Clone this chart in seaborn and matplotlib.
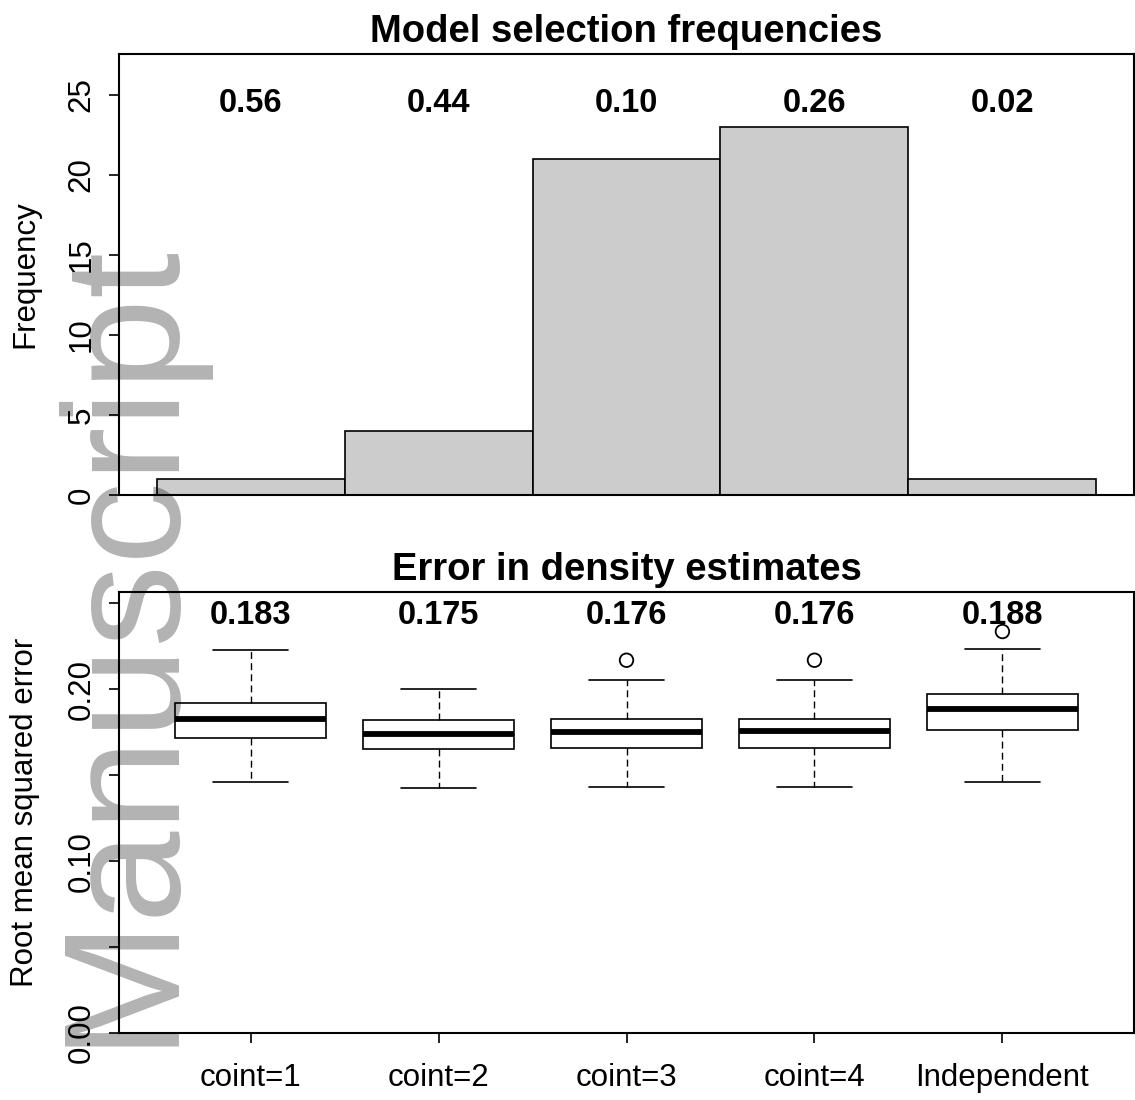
import numpy as np
import pandas as pd
import matplotlib
matplotlib.use("Agg")
import matplotlib.pyplot as plt
import seaborn as sns

# ---------------- data ----------------
categories = ["coint=1", "coint=2", "coint=3", "coint=4", "Independent"]
frequencies = [1, 4, 21, 23, 1]
selection_labels = ["0.56", "0.44", "0.10", "0.26", "0.02"]
rmse_labels = ["0.183", "0.175", "0.176", "0.176", "0.188"]

whisker_low = [0.1462, 0.1427, 0.1430, 0.1430, 0.1460]
q1 = [0.1716, 0.1650, 0.1660, 0.1660, 0.1761]
median = [0.1825, 0.1742, 0.1753, 0.1757, 0.1888]
q3 = [0.1918, 0.1819, 0.1825, 0.1825, 0.1975]
whisker_high = [0.2227, 0.2004, 0.2052, 0.2052, 0.2237]
outlier_groups = ["coint=3", "coint=4", "Independent"]
outlier_values = [0.2169, 0.2169, 0.2336]

freq_ticks = [0, 5, 10, 15, 20, 25]
rmse_ticks = [0.00, 0.05, 0.10, 0.15, 0.20, 0.25]
rmse_tick_labels = ["0.00", "", "0.10", "", "0.20", ""]

# ---------------- style ----------------
sns.set_theme(style="ticks")
plt.rcParams["font.family"] = ["Liberation Sans", "DejaVu Sans"]
plt.rcParams["text.color"] = "black"
plt.rcParams["axes.labelcolor"] = "black"
plt.rcParams["xtick.color"] = "black"
plt.rcParams["ytick.color"] = "black"

W, H = 1135, 1100
fig = plt.figure(figsize=(W / 100, H / 100), dpi=100)
fig.patch.set_facecolor("white")

left_px, right_px = 119, 1134
ax1 = fig.add_axes([left_px / W, 1 - 495 / H, (right_px - left_px) / W, (495 - 54) / H])
ax2 = fig.add_axes([left_px / W, 1 - 1033 / H, (right_px - left_px) / W, (1033 - 592) / H])

TICK_FS = 22.5
LABEL_FS = 22.5
TITLE_FS = 27.5
ANNOT_FS = 23.5

# ---------------- top: histogram of selections ----------------
df_freq = pd.DataFrame({"model": categories, "freq": frequencies})
sns.barplot(data=df_freq, x="model", y="freq", order=categories, width=1.0,
            color="#cccccc", saturation=1, edgecolor="black", linewidth=1.2,
            ax=ax1)
ax1.set_xlim(-0.7, 4.7)
ax1.set_ylim(0, 27.56)
ax1.set_xticks([])
ax1.set_xlabel("")
ax1.set_yticks(freq_ticks)
ax1.set_yticklabels([str(t) for t in freq_ticks])
for i, lab in enumerate(selection_labels):
    ax1.text(i, 24.45, lab, ha="center", va="center", fontsize=ANNOT_FS,
             fontweight="bold", color="black")
ax1.set_title("Model selection frequencies", fontsize=TITLE_FS,
              fontweight="bold", pad=9, color="black")
ax1.set_ylabel("Frequency", fontsize=LABEL_FS)

# ---------------- bottom: boxplots ----------------
rows = []
for g, a, b, c, d, e in zip(categories, whisker_low, q1, median, q3, whisker_high):
    for v in (a, b, c, d, e):
        rows.append({"model": g, "rmse": v})
df_box = pd.DataFrame(rows)

sns.boxplot(data=df_box, x="model", y="rmse", order=categories, whis=(0, 100),
            width=0.8, color="white", saturation=1, linecolor="black",
            linewidth=1.2, showfliers=False, ax=ax2,
            medianprops=dict(linewidth=4.2, color="black"),
            whiskerprops=dict(linestyle=(0, (5, 3)), linewidth=1.0),
            capprops=dict(linewidth=1.2),
            boxprops=dict(linewidth=1.2))

outlier_pos = [categories.index(g) for g in outlier_groups]
ax2.scatter(outlier_pos, outlier_values, s=95, facecolors="none",
            edgecolors="black", linewidths=1.3, zorder=5)

for i, lab in enumerate(rmse_labels):
    ax2.text(i, 0.2428, lab, ha="center", va="center", fontsize=ANNOT_FS,
             fontweight="bold", color="black")

ax2.set_xlim(-0.7, 4.7)
ax2.set_ylim(0, 0.2566)
ax2.set_xticks(range(len(categories)))
ax2.set_xticklabels(categories)
ax2.set_yticks(rmse_ticks)
ax2.set_yticklabels(rmse_tick_labels)
ax2.set_xlabel("")
ax2.set_title("Error in density estimates", fontsize=TITLE_FS,
              fontweight="bold", pad=9, color="black")
ax2.set_ylabel("Root mean squared error", fontsize=LABEL_FS)

# ---------------- shared axis styling ----------------
for ax in (ax1, ax2):
    ax.set_facecolor("white")
    ax.grid(False)
    for s in ax.spines.values():
        s.set_visible(True)
        s.set_color("black")
        s.set_linewidth(1.5)
    ax.tick_params(axis="both", direction="out", length=7, width=1.2,
                   colors="black", labelsize=TICK_FS)
    ax.tick_params(axis="y", pad=9)
    ax.tick_params(axis="x", pad=14.5)
    for t in ax.get_yticklabels():
        t.set_rotation(90)
        t.set_va("center")
    ax.yaxis.set_label_coords((25 - left_px) / (right_px - left_px), 0.5)
    ax.yaxis.label.set_va("center")

# ---------------- watermark ----------------
fig.text(166 / W, 1 - 1046 / H, "Manuscript", rotation=90,
         rotation_mode="anchor", ha="left", va="baseline", fontsize=119,
         color="black", alpha=0.3, zorder=10)

fig.savefig("out.png", dpi=100, facecolor="white")
